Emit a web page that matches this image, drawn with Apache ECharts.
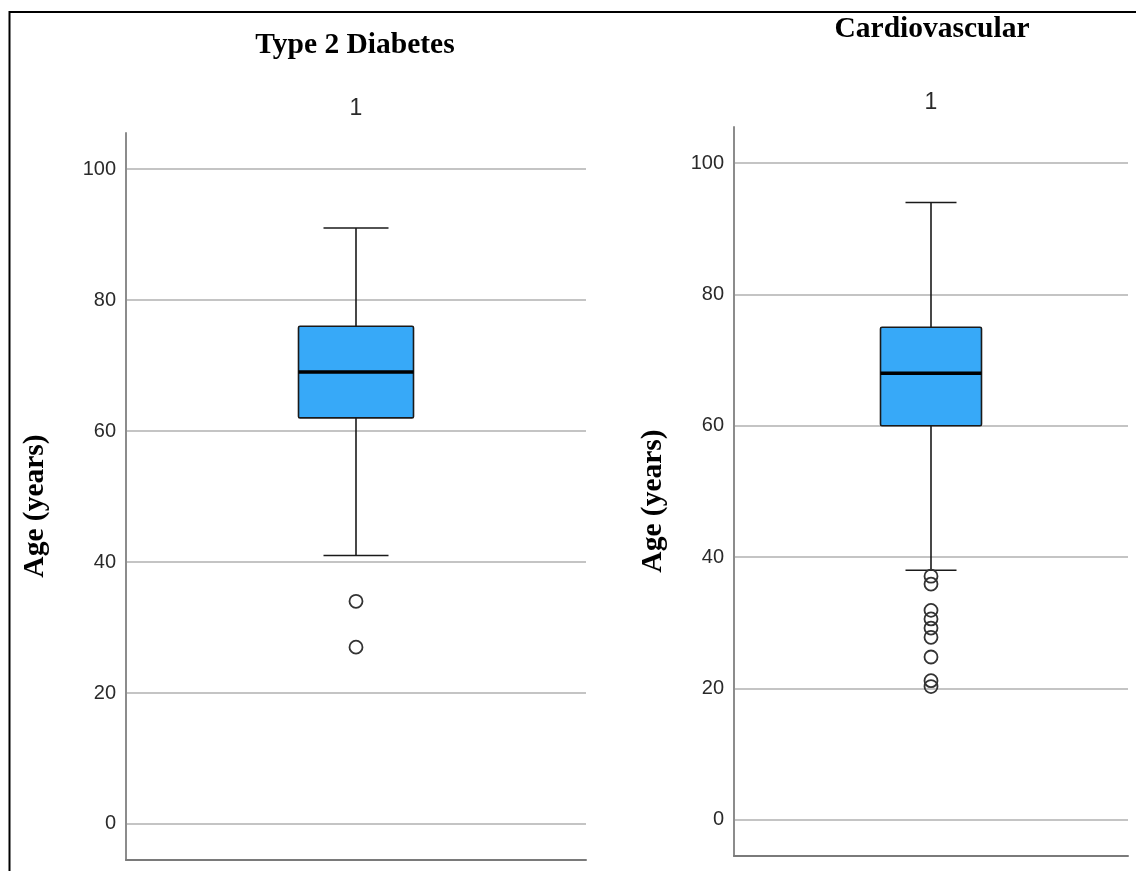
<!DOCTYPE html>
<html>
<head>
<meta charset="utf-8">
<script src="https://cdn.jsdelivr.net/npm/echarts@6/dist/echarts.min.js"></script>
<style>html,body{margin:0;padding:0;background:#fff}#c{width:1136px;height:871px}</style>
</head>
<body>
<div id="c"></div>
<script>
// ---- data ----
const categories = ['1'];
const panelTitles = ['Type 2 Diabetes', 'Cardiovascular'];
const yAxisName = 'Age (years)';
const yTicks = [0, 20, 40, 60, 80, 100];
// [lower whisker, Q1, median, Q3, upper whisker]
const diabetesBox = [41, 62, 69, 76, 91];
const diabetesOutliers = [34, 27];
const cardioBox = [38, 60, 68, 75, 94];
const cardioOutliers = [37.1, 35.9, 31.9, 30.6, 29.2, 27.8, 24.8, 21.2, 20.3];

// ---- chart ----
const chart = echarts.init(document.getElementById('c'), null, {renderer: 'canvas'});

function makeRender(boxW, capW) {
  return function (params, api) {
    const x = api.value(0);
    const lo = api.coord([x, api.value(1)]);
    const q1 = api.coord([x, api.value(2)]);
    const md = api.coord([x, api.value(3)]);
    const q3 = api.coord([x, api.value(4)]);
    const hi = api.coord([x, api.value(5)]);
    const cx = lo[0];
    const ls = {stroke: '#1a1a1a', lineWidth: 1.6};
    return {
      type: 'group',
      children: [
        {type: 'line', shape: {x1: cx, y1: hi[1], x2: cx, y2: q3[1]}, style: ls},
        {type: 'line', shape: {x1: cx, y1: q1[1], x2: cx, y2: lo[1]}, style: ls},
        {type: 'line', shape: {x1: cx - capW / 2, y1: hi[1], x2: cx + capW / 2, y2: hi[1]}, style: ls},
        {type: 'line', shape: {x1: cx - capW / 2, y1: lo[1], x2: cx + capW / 2, y2: lo[1]}, style: ls},
        {type: 'rect', shape: {x: cx - boxW / 2, y: q3[1], width: boxW, height: q1[1] - q3[1], r: 1.5},
          style: {fill: '#37a9f8', stroke: '#1a1a1a', lineWidth: 1.6}},
        {type: 'line', shape: {x1: cx - boxW / 2, y1: md[1], x2: cx + boxW / 2, y2: md[1]},
          style: {stroke: '#000', lineWidth: 3.5}}
      ]
    };
  };
}

function yAxisCfg(gi) {
  return {
    type: 'value', gridIndex: gi, min: -5.5, max: 105.5,
    axisLine: {show: true, lineStyle: {color: '#8c8c8c', width: 2}},
    axisTick: {show: false, customValues: yTicks},
    axisLabel: {customValues: yTicks, fontFamily: 'Liberation Sans', fontSize: 20, color: '#2a2a2a', margin: 10},
    splitLine: {show: true, lineStyle: {color: '#c4c4c4', width: 2}}
  };
}

const serifBold = {fontFamily: 'Liberation Serif', fontWeight: 'bold', fontSize: 29.5, fill: '#000',
  align: 'center', verticalAlign: 'middle'};

const option = {
  backgroundColor: '#fff',
  animation: false,
  grid: [
    {left: 126, right: 550, top: 133, bottom: 11},
    {left: 734, right: 8, top: 127, bottom: 15}
  ],
  xAxis: [
    {type: 'category', gridIndex: 0, data: categories, position: 'top',
      axisLine: {show: false}, axisTick: {show: false},
      axisLabel: {fontFamily: 'Liberation Sans', fontSize: 23, color: '#2a2a2a', margin: 13}},
    {type: 'category', gridIndex: 0, data: categories, position: 'bottom',
      axisLine: {show: true, lineStyle: {color: '#7a7a7a', width: 2}}, axisTick: {show: false}, axisLabel: {show: false}},
    {type: 'category', gridIndex: 1, data: categories, position: 'top',
      axisLine: {show: false}, axisTick: {show: false},
      axisLabel: {fontFamily: 'Liberation Sans', fontSize: 23, color: '#2a2a2a', margin: 13}},
    {type: 'category', gridIndex: 1, data: categories, position: 'bottom',
      axisLine: {show: true, lineStyle: {color: '#7a7a7a', width: 2}}, axisTick: {show: false}, axisLabel: {show: false}}
  ],
  yAxis: [yAxisCfg(0), yAxisCfg(1)],
  graphic: [
    {type: 'polyline', shape: {points: [[9.5, 871], [9.5, 12], [1136, 12]]},
      style: {stroke: '#000', lineWidth: 2, fill: null}, silent: true},
    {type: 'text', x: 355, y: 45, style: Object.assign({text: panelTitles[0]}, serifBold)},
    {type: 'text', x: 932, y: 29, style: Object.assign({text: panelTitles[1]}, serifBold)},
    {type: 'text', x: 35, y: 506, rotation: Math.PI / 2, style: Object.assign({text: yAxisName}, serifBold)},
    {type: 'text', x: 653, y: 501, rotation: Math.PI / 2, style: Object.assign({text: yAxisName}, serifBold)}
  ],
  series: [
    {type: 'custom', xAxisIndex: 0, yAxisIndex: 0, renderItem: makeRender(115, 65),
      encode: {x: 0, y: [1, 2, 3, 4, 5]}, data: [[0].concat(diabetesBox)], z: 3},
    {type: 'scatter', xAxisIndex: 0, yAxisIndex: 0, symbol: 'circle', symbolSize: 13,
      itemStyle: {color: '#fff', borderColor: '#333', borderWidth: 1.8, opacity: 1},
      data: diabetesOutliers.map(v => [0, v]), z: 4},
    {type: 'custom', xAxisIndex: 2, yAxisIndex: 1, renderItem: makeRender(101, 51),
      encode: {x: 0, y: [1, 2, 3, 4, 5]}, data: [[0].concat(cardioBox)], z: 3},
    {type: 'scatter', xAxisIndex: 2, yAxisIndex: 1, symbol: 'circle', symbolSize: 13,
      itemStyle: {color: 'rgba(255,255,255,0)', borderColor: '#333', borderWidth: 1.8, opacity: 1},
      data: cardioOutliers.map(v => [0, v]), z: 4}
  ]
};
chart.setOption(option);
</script>
</body>
</html>
